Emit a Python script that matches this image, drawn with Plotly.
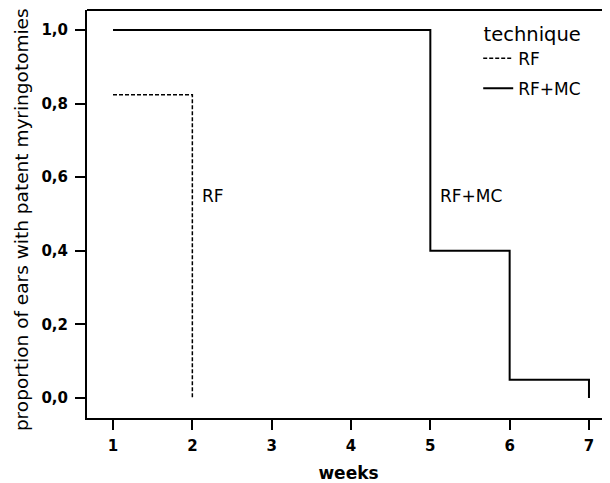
import plotly.graph_objects as go

# Data (Kaplan-Meier style step curves)
rf_weeks = [1, 2]
rf_prop = [0.824, 0.0]
rfmc_weeks = [1, 5, 6, 7]
rfmc_prop = [1.0, 0.4, 0.05, 0.0]

x_ticks = [1, 2, 3, 4, 5, 6, 7]
y_ticks = [0.0, 0.2, 0.4, 0.6, 0.8, 1.0]
y_ticklabels = ["0,0", "0,2", "0,4", "0,6", "0,8", "1,0"]

label_rf = "RF"
label_rfmc = "RF+MC"
y_title = "proportion of ears with patent myringotomies"

FONT = "DejaVu Sans"

fig = go.Figure()
fig.add_trace(go.Scatter(
    x=rf_weeks, y=rf_prop, mode="lines", name=label_rf, legendgroup="a",
    line=dict(shape="hv", color="black", width=1.5, dash="4px,2px"),
))
fig.add_trace(go.Scatter(
    x=rfmc_weeks, y=rfmc_prop, mode="lines", name=label_rfmc, legendgroup="b",
    line=dict(shape="hv", color="black", width=2),
))

fig.add_annotation(x=rf_weeks[-1], y=0.55, text=label_rf, showarrow=False,
                   xanchor="left", xshift=8, font=dict(family=FONT, size=17, color="black"))
fig.add_annotation(x=rfmc_weeks[1], y=0.55, text=label_rfmc, showarrow=False,
                   xanchor="left", xshift=8, font=dict(family=FONT, size=17, color="black"))

# y-axis title as rotated annotation for precise placement
fig.add_annotation(xref="paper", yref="paper", x=0, y=0.485, xshift=-66,
                   text=y_title, textangle=-90, showarrow=False,
                   xanchor="center", yanchor="middle",
                   font=dict(family=FONT, size=18.5, color="black"))

# page body has an 8px margin, so the figure is offset by 8px
fig.update_layout(
    width=602, height=475,
    margin=dict(l=79, r=0, t=2, b=65),
    paper_bgcolor="white", plot_bgcolor="white",
    font=dict(family=FONT, color="black"),
    showlegend=True,
    legend=dict(
        x=0.748, y=0.987, xanchor="left", yanchor="top",
        bgcolor="rgba(0,0,0,0)",
        title=dict(text="technique", side="top center", font=dict(family=FONT, size=19.5)),
        font=dict(family=FONT, size=17),
        tracegroupgap=5,
    ),
    xaxis=dict(
        range=[0.672, 7.265],
        tickmode="array", tickvals=x_ticks,
        ticks="outside", ticklen=10, tickwidth=2, tickcolor="black",
        ticklabelstandoff=3,
        showline=True, linecolor="black", linewidth=2, mirror=False,
        showgrid=False, zeroline=False, automargin=False,
        tickfont=dict(family=FONT, size=15, weight="bold"),
        title=dict(text="weeks", font=dict(family=FONT, size=17, weight="bold"), standoff=15),
    ),
    yaxis=dict(
        range=[-0.054, 1.054],
        tickmode="array", tickvals=y_ticks, ticktext=y_ticklabels,
        ticks="outside", ticklen=10, tickwidth=2, tickcolor="black",
        ticklabelstandoff=4,
        showline=True, linecolor="black", linewidth=2,
        showgrid=False, zeroline=False, automargin=False,
        tickfont=dict(family=FONT, size=15, weight="bold"),
    ),
)
# top border line of the frame
fig.add_shape(type="line", xref="paper", yref="paper", x0=0, x1=1, y0=1, y1=1,
              line=dict(color="black", width=2))

fig.write_html("out.html")
